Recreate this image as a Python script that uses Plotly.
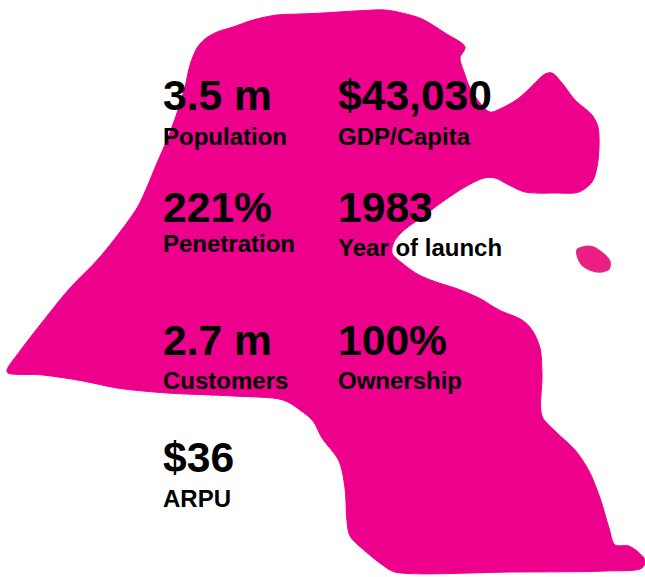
import plotly.graph_objects as go

# Map outline (Kuwait mainland)
outline_x = [70,100,137,147,157,167,177,185,190,197,205,217,233,253,277,300,323,355,385,402,422,445,465,460,464,470,480,490,502,519,535,545,552,562,575,592,598,599,597,592,579,555,525,509,495,484,465,445,422,402,394,392,402,419,439,455,479,499,522,532,540,542,542,555,575,589,600,609,615,629,645,642,605,512,395,384,365,350,347,345,339,322,313,300,283,233,167,117,83,43,8,7,20,40,70]
outline_y = [288,257,208,187,163,140,113,87,65,48,39,32,27,20,15,14,13,11,10,13,19,33,47,58,72,88,103,112,108,98,83,74,73,83,100,115,127,147,167,182,192,193,192,185,178,178,187,200,217,232,242,253,263,275,283,288,298,310,320,330,348,375,416,431,450,471,498,528,545,546,560,568,571,572,572,566,551,536,521,488,461,438,421,410,400,396,393,388,381,375,373,370,351,325,288]

# Island outline
island_x = [577,583,593,605,610,609,600,590,582,578,577]
island_y = [250,247,247,255,262,269,272,270,265,258,250]

# Stats
values = ["3.5 m", "$43,030", "221%", "1983", "2.7 m", "100%", "$36"]
labels = ["Population", "GDP/Capita", "Penetration", "Year of launch", "Customers", "Ownership", "ARPU"]

# Text placement
text_x = [162.6, 337.6, 162.6, 337.6, 162.6, 337.6, 162.6]
value_base = [110, 110, 222, 222, 354.5, 354.5, 472]
label_base = [145, 145, 252, 256, 389, 389, 507]
VALUE_SIZE = 42.6
LABEL_SIZE = 24
PINK = "#EC008C"
FONT = "Liberation Sans"

fig = go.Figure()
fig.add_trace(go.Scatter(x=outline_x, y=outline_y, mode="lines", fill="toself",
                         fillcolor=PINK, hoverinfo="skip",
                         line=dict(color=PINK, width=1, shape="spline", smoothing=0.9)))
fig.add_trace(go.Scatter(x=island_x, y=island_y, mode="lines", fill="toself",
                         fillcolor="#EC1E84", hoverinfo="skip",
                         line=dict(color="#D9307F", width=1.5, shape="spline", smoothing=0.8)))

def ann(x, base, text, size):
    return dict(x=x, y=base - 0.3465 * size, xref="x", yref="y", text=f"<b>{text}</b>",
                showarrow=False, xanchor="left", yanchor="middle", borderpad=0, borderwidth=0,
                font=dict(family=FONT, size=size, color="#000000"))

anns = []
for x, vb, lb, v, l in zip(text_x, value_base, label_base, values, labels):
    anns.append(ann(x, vb, v, VALUE_SIZE))
    anns.append(ann(x, lb, l, LABEL_SIZE))

fig.update_layout(
    width=645, height=577, margin=dict(l=0, r=0, t=0, b=0),
    paper_bgcolor="white", plot_bgcolor="white", showlegend=False,
    xaxis=dict(range=[0, 645], visible=False, fixedrange=True),
    yaxis=dict(range=[577, 0], visible=False, fixedrange=True),
    annotations=anns,
)
fig.write_html("out.html", config=dict(displayModeBar=False),
               post_script="document.body.style.margin='0';document.documentElement.style.overflow='hidden';")
